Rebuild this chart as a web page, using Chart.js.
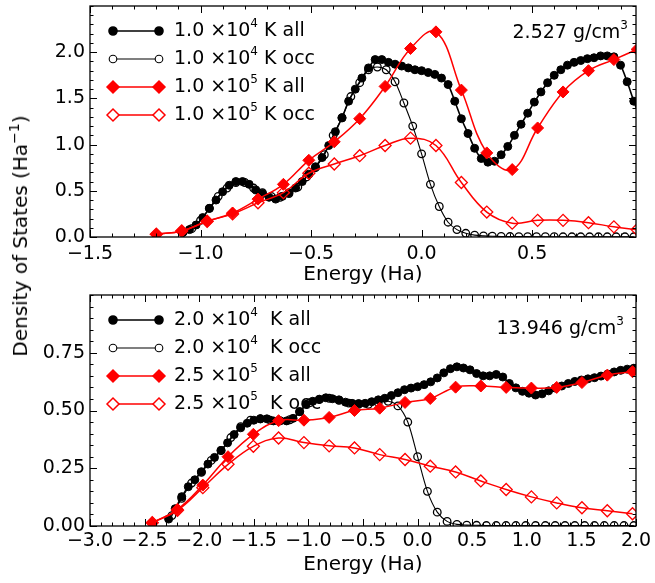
<!DOCTYPE html>
<html>
<head>
<meta charset="utf-8">
<script src="https://cdn.jsdelivr.net/npm/chart.js@4/dist/chart.umd.min.js"></script>
<style>
  body { margin: 0; background: #fff; }
  #wrap { position: relative; width: 655px; height: 583px; }
  canvas { position: absolute; left: 0; }
  #ylab {
    position: absolute; left: 20px; top: 236px;
    transform: translate(-50%, -50%) rotate(-90deg);
    font: 20px "DejaVu Sans", sans-serif; white-space: nowrap; color: #000;
  }
  #ylab span { font-size: 14px; position: relative; top: -8px; }
</style>
</head>
<body>
<div id="wrap">
  <canvas id="top" width="655" height="290" style="top:0"></canvas>
  <canvas id="bot" width="655" height="293" style="top:290px"></canvas>
  <div id="ylab">Density of States (Ha<span>−1</span>)</div>
</div>
<script>
// ---- upper panel (2.527 g/cm3) ----
const topAllE = [
  -1.08, -1.05, -1.02, -0.99, -0.96, -0.93, -0.90, -0.87, -0.84, -0.81,
  -0.78, -0.75, -0.72, -0.69, -0.66, -0.63, -0.60, -0.57, -0.54, -0.51,
  -0.48, -0.45, -0.42, -0.39, -0.36, -0.33, -0.30, -0.27, -0.24, -0.21,
  -0.18, -0.15, -0.12, -0.09, -0.06, -0.03, 0.00, 0.03, 0.06, 0.09,
  0.12, 0.15, 0.18, 0.21, 0.24, 0.27, 0.30, 0.33, 0.36, 0.39,
  0.42, 0.45, 0.48, 0.51, 0.54, 0.57, 0.60, 0.63, 0.66, 0.69,
  0.72, 0.75, 0.78, 0.81, 0.84, 0.87, 0.90, 0.93, 0.96, 0.99
];
const topAllD = [
  0.05, 0.08, 0.13, 0.21, 0.31, 0.40, 0.49, 0.56, 0.60, 0.60,
  0.57, 0.51, 0.47, 0.43, 0.41, 0.44, 0.48, 0.53, 0.60, 0.68,
  0.76, 0.86, 0.99, 1.14, 1.29, 1.47, 1.60, 1.72, 1.83, 1.92,
  1.92, 1.89, 1.87, 1.85, 1.83, 1.81, 1.80, 1.78, 1.76, 1.72,
  1.65, 1.47, 1.28, 1.12, 0.96, 0.85, 0.81, 0.82, 0.89, 0.98,
  1.10, 1.22, 1.34, 1.46, 1.57, 1.67, 1.75, 1.81, 1.86, 1.89,
  1.91, 1.93, 1.94, 1.96, 1.96, 1.95, 1.86, 1.68, 1.47, 1.28
];
const topOccE = [
  -1.08, -1.04, -1.00, -0.96, -0.92, -0.88, -0.84, -0.80, -0.76, -0.72,
  -0.68, -0.64, -0.60, -0.56, -0.52, -0.48, -0.44, -0.40, -0.36, -0.32,
  -0.28, -0.24, -0.20, -0.16, -0.12, -0.08, -0.04, 0.00, 0.04, 0.08,
  0.12, 0.16, 0.20, 0.24, 0.28, 0.32, 0.36, 0.40, 0.44, 0.48,
  0.52, 0.56, 0.60, 0.64, 0.68, 0.72, 0.76, 0.80, 0.84, 0.88,
  0.92, 0.96
];
const topOccD = [
  0.05, 0.09, 0.18, 0.31, 0.44, 0.53, 0.59, 0.59, 0.53, 0.48,
  0.44, 0.43, 0.47, 0.54, 0.65, 0.75, 0.89, 1.10, 1.29, 1.52,
  1.67, 1.81, 1.84, 1.81, 1.68, 1.45, 1.20, 0.90, 0.57, 0.33,
  0.16, 0.08, 0.04, 0.02, 0.012, 0.008, 0.006, 0.005, 0.004, 0.004,
  0.003, 0.003, 0.003, 0.002, 0.002, 0.002, 0.002, 0.002, 0.002, 0.002,
  0.002, 0.002
];
const topRedE = [
  -1.200, -1.085, -0.970, -0.855, -0.740, -0.625, -0.510, -0.395, -0.280, -0.165,
  -0.050, 0.065, 0.180, 0.295, 0.410, 0.525, 0.640, 0.755, 0.870, 0.975
];
const topRedAllD = [
  0.03, 0.065, 0.17, 0.26, 0.41, 0.57, 0.83, 1.03, 1.28, 1.63,
  2.04, 2.22, 1.59, 0.91, 0.73, 1.18, 1.57, 1.80, 1.92, 2.03
];
const topRedOccD = [
  0.03, 0.065, 0.17, 0.25, 0.37, 0.48, 0.69, 0.79, 0.88, 0.99,
  1.07, 0.99, 0.59, 0.27, 0.15, 0.18, 0.18, 0.155, 0.11, 0.08
];

// ---- lower panel (13.946 g/cm3) ----
const botAllE = [
  -2.28, -2.22, -2.16, -2.10, -2.04, -1.98, -1.92, -1.86, -1.80, -1.74,
  -1.68, -1.62, -1.56, -1.50, -1.44, -1.38, -1.32, -1.26, -1.20, -1.14,
  -1.08, -1.02, -0.96, -0.90, -0.84, -0.78, -0.72, -0.66, -0.60, -0.54,
  -0.48, -0.42, -0.36, -0.30, -0.24, -0.18, -0.12, -0.06, 0.00, 0.06,
  0.12, 0.18, 0.24, 0.30, 0.36, 0.42, 0.48, 0.54, 0.60, 0.66,
  0.72, 0.78, 0.84, 0.90, 0.96, 1.02, 1.08, 1.14, 1.20, 1.26,
  1.32, 1.38, 1.44, 1.50, 1.56, 1.62, 1.68, 1.74, 1.80, 1.86,
  1.92, 1.98
];
const botAllD = [
  0.030, 0.075, 0.127, 0.170, 0.200, 0.235, 0.268, 0.297, 0.327, 0.360,
  0.396, 0.425, 0.445, 0.458, 0.464, 0.464, 0.455, 0.456, 0.455, 0.466,
  0.495, 0.527, 0.540, 0.549, 0.555, 0.551, 0.546, 0.536, 0.531, 0.530,
  0.531, 0.538, 0.546, 0.553, 0.565, 0.577, 0.590, 0.597, 0.603, 0.612,
  0.624, 0.641, 0.663, 0.681, 0.689, 0.684, 0.676, 0.660, 0.650, 0.650,
  0.656, 0.645, 0.617, 0.598, 0.583, 0.575, 0.567, 0.572, 0.585, 0.597,
  0.606, 0.617, 0.626, 0.632, 0.637, 0.642, 0.649, 0.658, 0.667, 0.674,
  0.679, 0.683
];
const botOccE = [
  -2.25, -2.16, -2.07, -1.98, -1.89, -1.80, -1.71, -1.62, -1.53, -1.44,
  -1.35, -1.26, -1.17, -1.08, -0.99, -0.90, -0.81, -0.72, -0.63, -0.54,
  -0.45, -0.36, -0.27, -0.18, -0.09, 0.00, 0.09, 0.18, 0.27, 0.36,
  0.45, 0.54, 0.63, 0.72, 0.81, 0.90, 0.99, 1.08, 1.17, 1.26,
  1.35, 1.44, 1.53, 1.62, 1.71, 1.80, 1.89, 1.98
];
const botOccD = [
  0.045, 0.120, 0.186, 0.232, 0.284, 0.327, 0.383, 0.430, 0.458, 0.464,
  0.458, 0.455, 0.460, 0.495, 0.533, 0.547, 0.553, 0.544, 0.532, 0.527,
  0.527, 0.535, 0.540, 0.520, 0.450, 0.300, 0.150, 0.060, 0.020, 0.007,
  0.004, 0.003, 0.002, 0.002, 0.002, 0.002, 0.002, 0.002, 0.002, 0.002,
  0.002, 0.002, 0.002, 0.002, 0.002, 0.002, 0.002, 0.002
];
const botRedE = [
  -2.430, -2.199, -1.967, -1.736, -1.504, -1.273, -1.041, -0.810, -0.578, -0.347,
  -0.115, 0.116, 0.348, 0.579, 0.811, 1.042, 1.274, 1.505, 1.737, 1.968
];
const botRedAllD = [
  0.014, 0.072, 0.177, 0.300, 0.397, 0.456, 0.458, 0.470, 0.500, 0.510,
  0.535, 0.552, 0.601, 0.606, 0.600, 0.597, 0.600, 0.621, 0.653, 0.668
];
const botRedOccD = [
  0.014, 0.068, 0.166, 0.267, 0.345, 0.381, 0.361, 0.347, 0.338, 0.309,
  0.288, 0.259, 0.234, 0.195, 0.158, 0.126, 0.100, 0.079, 0.066, 0.053
];

// tick labels
const topXTicks = [-1.5, -1.0, -0.5, 0.0, 0.5];
const topYTicks = [0.0, 0.5, 1.0, 1.5, 2.0];
const botXTicks = [-3.0, -2.5, -2.0, -1.5, -1.0, -0.5, 0.0, 0.5, 1.0, 1.5, 2.0];
const botYTicks = [0.0, 0.25, 0.5, 0.75];

// legend texts: [before superscript, superscript, after]
const topNames = [
  ["1.0 ×10", "4", " K all"], ["1.0 ×10", "4", " K occ"],
  ["1.0 ×10", "5", " K all"], ["1.0 ×10", "5", " K occ"]
];
const botNames = [
  ["2.0 ×10", "4", "  K all"], ["2.0 ×10", "4", "  K occ"],
  ["2.5 ×10", "5", "  K all"], ["2.5 ×10", "5", "  K occ"]
];

const FONT = '"DejaVu Sans", sans-serif';
const pts = (xs, ys) => xs.map((x, i) => ({ x: x, y: ys[i] }));
const fmt = d => v => (v < -1e-9 ? "\u2212" : "") + Math.abs(v).toFixed(d);

// marker styles, same order as the datasets
const styles = [
  { color: "#000", pointStyle: "circle", radius: 4, fill: true, lw: 1.6 },
  { color: "#000", pointStyle: "circle", radius: 3.8, fill: false, lw: 1.1 },
  { color: "#ff0000", pointStyle: "rectRot", radius: 6, fill: true, lw: 1.5 },
  { color: "#ff0000", pointStyle: "rectRot", radius: 6, fill: false, lw: 1.5 }
];

// box, inward ticks on all sides, legend and density label
const decor = {
  id: "decor",
  afterDraw(chart, args, o) {
    const { ctx, chartArea: a, scales } = chart;
    const x = scales.x, y = scales.y;
    ctx.save();
    ctx.strokeStyle = "#000";
    ctx.lineWidth = 1;
    const minor = (s, step) => {
      const out = [];
      for (let i = Math.ceil(s.min / step - 1e-6); i * step <= s.max + 1e-6; i++) out.push(i * step);
      return out;
    };
    ctx.beginPath();
    const xt = (vals, len) => vals.forEach(v => {
      const p = Math.round(x.getPixelForValue(v)) + 0.5;
      ctx.moveTo(p, a.bottom); ctx.lineTo(p, a.bottom - len);
      ctx.moveTo(p, a.top); ctx.lineTo(p, a.top + len);
    });
    const yt = (vals, len) => vals.forEach(v => {
      const p = Math.round(y.getPixelForValue(v)) + 0.5;
      ctx.moveTo(a.left, p); ctx.lineTo(a.left + len, p);
      ctx.moveTo(a.right, p); ctx.lineTo(a.right - len, p);
    });
    xt(o.xTicks, 7); xt(minor(x, 0.1), 3.5);
    yt(o.yTicks, 7); yt(minor(y, o.yMinor), 3.5);
    ctx.stroke();
    ctx.lineWidth = 1.3;
    ctx.strokeRect(a.left, a.top, a.right - a.left, a.bottom - a.top);

    // legend
    ctx.textBaseline = "middle";
    ctx.textAlign = "left";
    o.names.forEach((n, i) => {
      const st = styles[i];
      const ly = o.legendY + i * 28;
      ctx.strokeStyle = st.color;
      ctx.lineWidth = st.lw;
      ctx.beginPath(); ctx.moveTo(113, ly); ctx.lineTo(159, ly); ctx.stroke();
      [113, 159].forEach(px => {
        ctx.fillStyle = st.fill ? st.color : "#fff";
        ctx.strokeStyle = st.color;
        Chart.helpers.drawPoint(ctx, { pointStyle: st.pointStyle, radius: st.radius, rotation: 0, borderWidth: st.fill ? 1 : 1.3 }, px, ly);
      });
      ctx.fillStyle = "#000";
      let tx = 174;
      ctx.font = "19px " + FONT;
      ctx.fillText(n[0], tx, ly); tx += ctx.measureText(n[0]).width;
      ctx.font = "12px " + FONT;
      ctx.fillText(n[1], tx, ly - 7); tx += ctx.measureText(n[1]).width;
      ctx.font = "19px " + FONT;
      ctx.fillText(n[2], tx, ly);
    });

    // density label, right aligned
    ctx.font = "19px " + FONT;
    const w1 = ctx.measureText(o.rho).width;
    ctx.font = "12px " + FONT;
    const w2 = ctx.measureText("3").width;
    const sx = o.rhoRight - w1 - w2;
    ctx.font = "19px " + FONT;
    ctx.fillText(o.rho, sx, o.rhoY);
    ctx.font = "12px " + FONT;
    ctx.fillText("3", sx + w1, o.rhoY - 7);
    ctx.restore();
  }
};

function panel(id, o) {
  const sets = [
    pts(o.allE, o.allD), pts(o.occE, o.occD), pts(o.redE, o.redAll), pts(o.redE, o.redOcc)
  ].map((d, i) => {
    const st = styles[i];
    return {
      data: d,
      showLine: true,
      order: 4 - i,
      clip: 0,
      tension: i < 2 ? 0.3 : 0.4,
      borderColor: st.color,
      borderWidth: st.lw,
      backgroundColor: st.fill ? st.color : "rgba(0,0,0,0)",
      pointStyle: st.pointStyle,
      pointRadius: st.radius,
      pointBorderWidth: st.fill ? 1 : 1.3,
      pointBackgroundColor: st.fill ? st.color : "rgba(0,0,0,0)",
      pointBorderColor: st.color
    };
  });
  return new Chart(document.getElementById(id), {
    type: "scatter",
    plugins: [decor],
    data: { datasets: sets },
    options: {
      responsive: false,
      animation: false,
      events: [],
      layout: { padding: { left: 0, right: 19, top: o.padTop, bottom: 0 }, autoPadding: false },
      plugins: {
        legend: { display: false },
        tooltip: { enabled: false },
        decor: o.decor
      },
      scales: {
        x: {
          type: "linear", min: o.xMin, max: o.xMax,
          grid: { display: false, drawTicks: false },
          border: { display: false },
          afterBuildTicks: s => { s.ticks = o.decor.xTicks.map(v => ({ value: v })); },
          afterFit: s => { s.height = o.xH; s.paddingLeft = 0; s.paddingRight = 0; },
          ticks: { color: "#000", font: { family: FONT, size: 19 }, padding: o.xPad, maxRotation: 0, autoSkip: false, callback: fmt(1) },
          title: { display: true, text: "Energy (Ha)", color: "#000", font: { family: FONT, size: 20 }, padding: { top: 0, bottom: o.titlePad } }
        },
        y: {
          type: "linear", min: 0, max: o.yMax,
          grid: { display: false, drawTicks: false },
          border: { display: false },
          afterBuildTicks: s => { s.ticks = o.decor.yTicks.map(v => ({ value: v })); },
          afterFit: s => { s.width = 90; s.paddingTop = 0; s.paddingBottom = 0; },
          ticks: { color: "#000", font: { family: FONT, size: 19 }, padding: 5, autoSkip: false, callback: fmt(o.yDec) }
        }
      }
    }
  });
}

panel("top", {
  allE: topAllE, allD: topAllD, occE: topOccE, occD: topOccD,
  redE: topRedE, redAll: topRedAllD, redOcc: topRedOccD,
  xMin: -1.5, xMax: 0.97, yMax: 2.5, yDec: 1,
  padTop: 6, xH: 53, xPad: 6, titlePad: 3,
  decor: { xTicks: topXTicks, yTicks: topYTicks, yMinor: 0.1, names: topNames, legendY: 31, rho: "2.527 g/cm", rhoRight: 628, rhoY: 33 }
});

panel("bot", {
  allE: botAllE, allD: botAllD, occE: botOccE, occD: botOccD,
  redE: botRedE, redAll: botRedAllD, redOcc: botRedOccD,
  xMin: -3.0, xMax: 2.0, yMax: 1.0, yDec: 2,
  padTop: 5, xH: 57, xPad: 4, titlePad: 6,
  decor: { xTicks: botXTicks, yTicks: botYTicks, yMinor: 0.05, names: botNames, legendY: 30, rho: "13.946 g/cm", rhoRight: 624, rhoY: 39 }
});
</script>
</body>
</html>
